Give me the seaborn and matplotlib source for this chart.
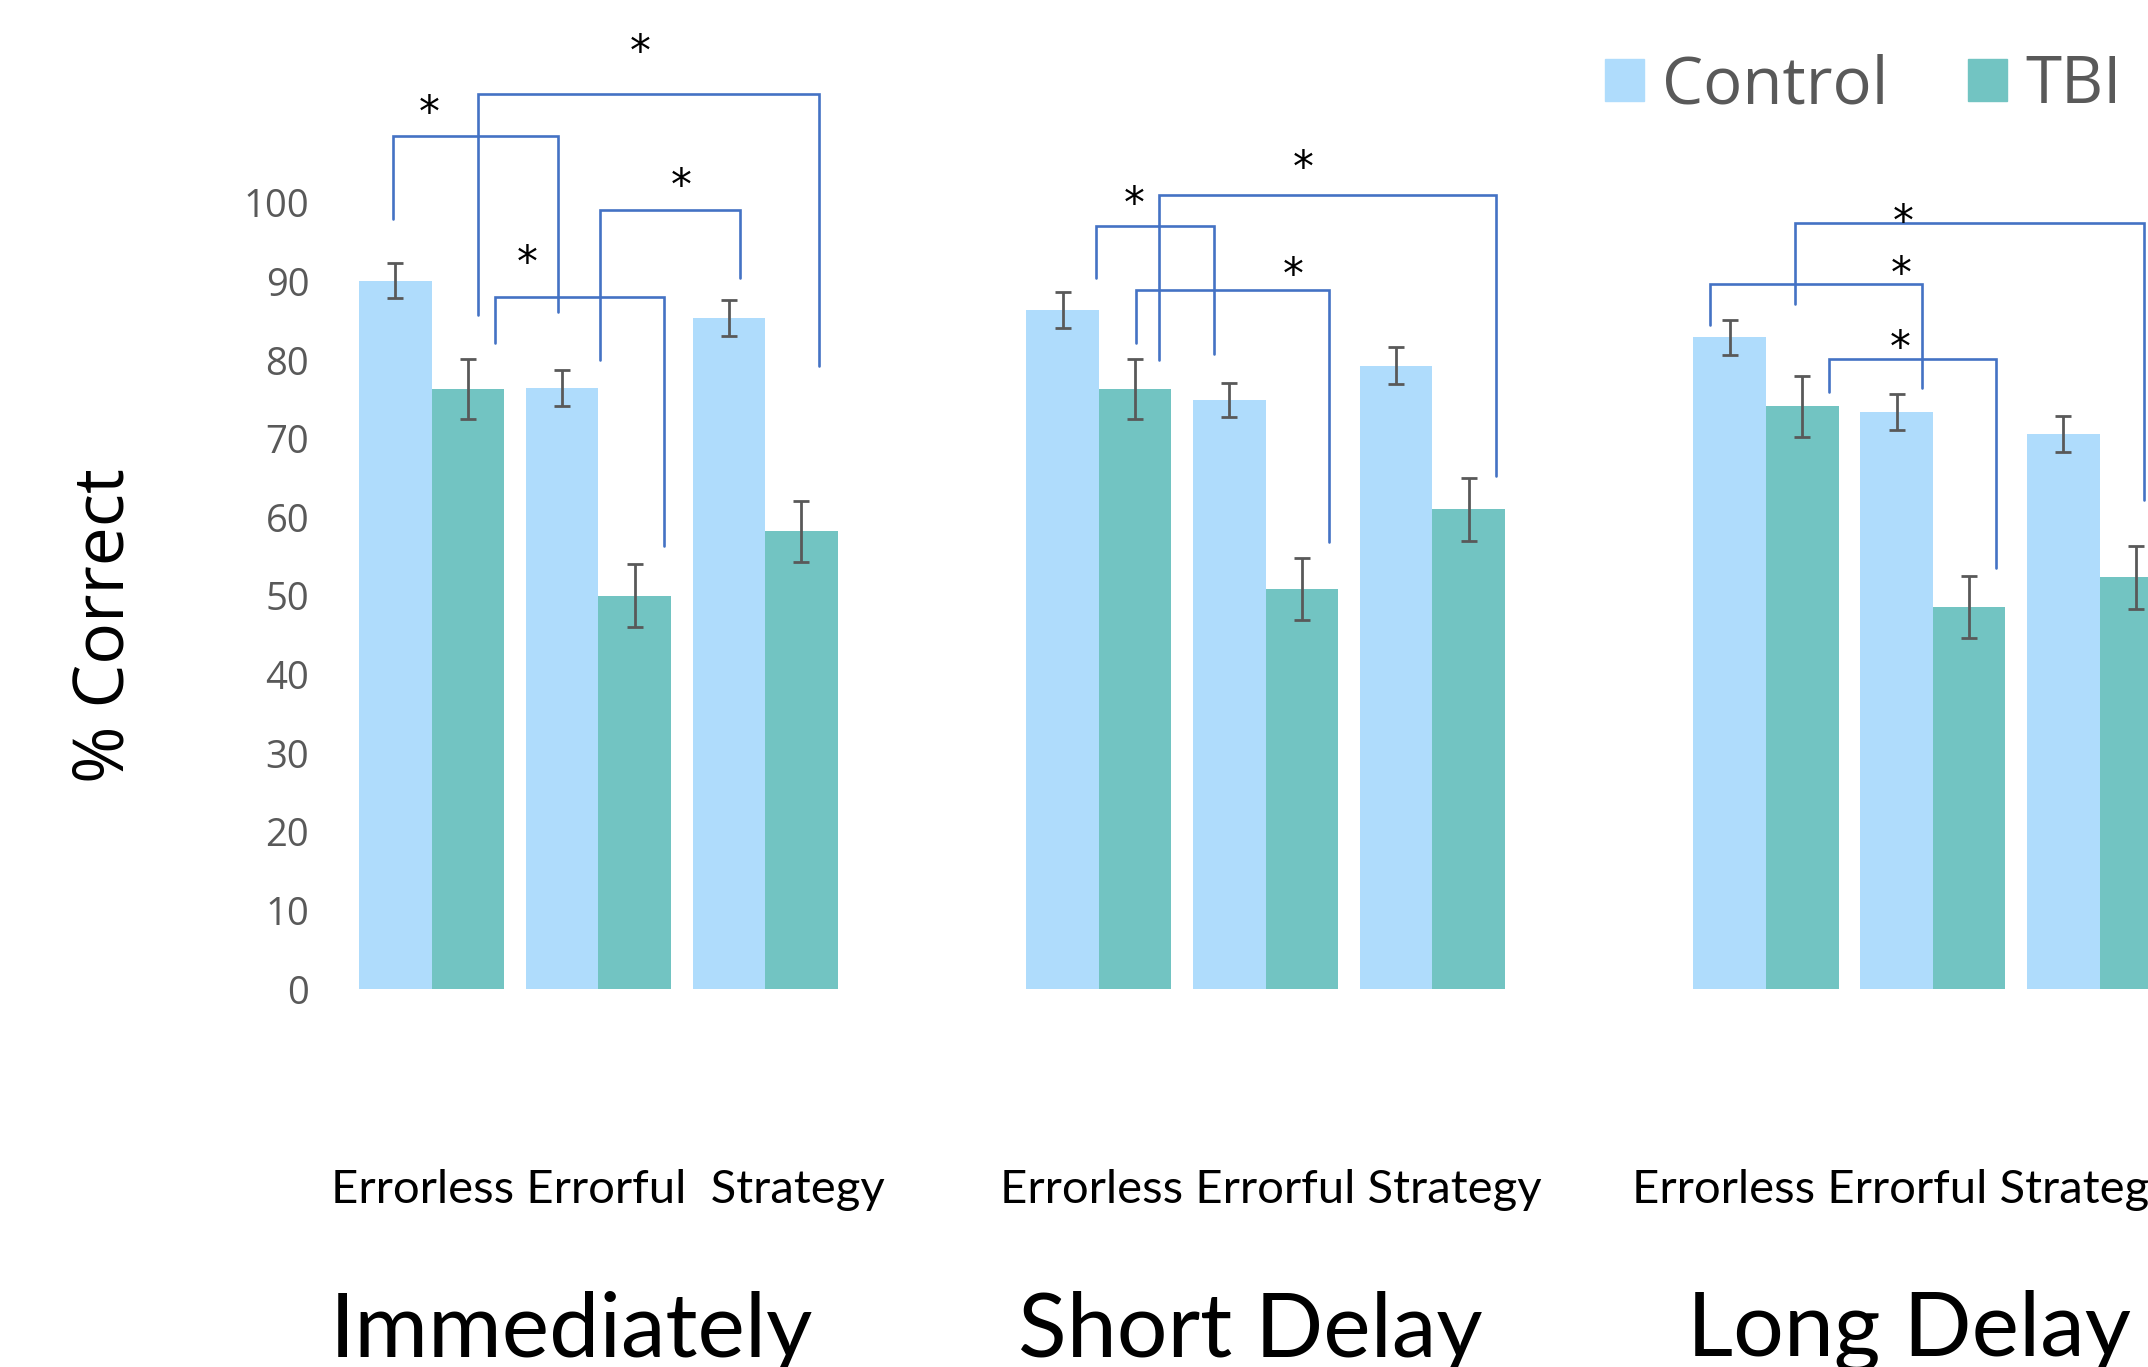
import numpy as np
import pandas as pd
import seaborn as sns
import matplotlib.pyplot as plt
import matplotlib.transforms as mtransforms
from matplotlib.patches import Patch

# Data
delays = ['Immediately', 'Short Delay', 'Long Delay']
conditions = ['Errorless', 'Errorful', 'Strategy']
groups = ['Control', 'TBI']

control_mean = [90.1, 76.5, 85.4, 86.4, 74.9, 79.3, 82.9, 73.4, 70.6]
control_err = [2.2, 2.3, 2.3, 2.3, 2.2, 2.3, 2.2, 2.25, 2.3]
tbi_mean = [76.3, 50.0, 58.2, 76.3, 50.9, 61.0, 74.1, 48.6, 52.4]
tbi_err = [3.8, 4.0, 3.9, 3.8, 3.9, 4.0, 3.9, 3.9, 4.0]

# labels under each block of bars
cond_labels = ['Errorless Errorful  Strategy', 'Errorless Errorful Strategy', 'Errorless Errorful Strategy']
cond_label_x = [1.06, 5.03, 8.82]
delay_label_x = [0.84, 4.91, 8.86]

# significance brackets: x left, x right, left leg end, right leg end, bar height, star x, star y
brackets = [
    (-0.230, 0.756, 97.9, 86.1, 108.5, -0.016, 112.4),
    (0.279, 2.324, 85.7, 79.3, 113.8, 1.248, 120.2),
    (0.378, 1.396, 82.2, 56.4, 88.0, 0.575, 93.4),
    (1.010, 1.848, 80.0, 90.4, 99.1, 1.495, 103.1),
    (3.984, 4.690, 90.4, 80.8, 97.0, 4.214, 100.9),
    (4.361, 6.382, 80.0, 65.3, 101.0, 5.224, 105.4),
    (4.222, 5.380, 82.2, 56.8, 88.9, 5.166, 91.8),
    (7.663, 8.936, 84.5, 76.5, 89.7, 8.813, 92.0),
    (8.172, 10.267, 87.1, 62.2, 97.4, 8.821, 98.6),
    (8.375, 9.380, 76.0, 53.5, 80.1, 8.805, 82.6),
]

colors = ['#AFDCFC', '#72C4C2']
grey = '#595959'
blue = '#4472C4'

sns.set_style('white')
plt.rcParams['font.family'] = ['Open Sans', 'DejaVu Sans']

# one slot per delay/condition, blocks of three separated by a gap
pos = [4 * g + c for g in range(len(delays)) for c in range(len(conditions))]
df = pd.DataFrame({
    'pos': pos * 2,
    'value': control_mean + tbi_mean,
    'group': ['Control'] * 9 + ['TBI'] * 9,
})

fig = plt.figure(figsize=(21.48, 13.67), dpi=100)
ax = fig.add_axes([328.8 / 2148, 0.2765, 1 - 328.8 / 2148, 1 - 0.2765])

sns.barplot(data=df, x='pos', y='value', hue='group', hue_order=groups,
            palette=colors, native_scale=True, width=0.87, gap=0,
            saturation=1, errorbar=None, legend=False, linewidth=0, ax=ax)

for cont, means, errs in zip(ax.containers, [control_mean, tbi_mean], [control_err, tbi_err]):
    xs = sorted(b.get_x() + b.get_width() / 2 for b in cont)
    ax.errorbar(xs, means, yerr=errs, fmt='none', ecolor=grey,
                elinewidth=2, capsize=6, capthick=2)

for xl, xr, yl, yr, top, sx, sy in brackets:
    ax.plot([xl, xl, xr, xr], [yl, top, top, yr], color=blue, lw=1.9,
            solid_joinstyle='miter')
    ax.annotate('*', (sx, sy), xytext=(0, -6.5), textcoords='offset points',
                ha='center', va='center', fontsize=30, color='black',
                family='DejaVu Sans')

ax.set_xlim(-0.616, 10.29)
ax.set_ylim(0, 125.8)
ax.set_yticks(range(0, 101, 10))
ax.set_xticks([])
ax.tick_params(axis='y', length=0, pad=14, labelsize=27.5, labelcolor=grey)
ax.set_xlabel('')
ax.set_ylabel('')
sns.despine(ax=ax, left=True, bottom=True)

fig.text(105 / 2148, 1 - 626 / 1367, '% Correct', rotation=90,
         ha='center', va='center', fontsize=50, color='black')

trans = mtransforms.blended_transform_factory(ax.transData, fig.transFigure)
for x, s in zip(cond_label_x, cond_labels):
    ax.text(x, 0.12, s, transform=trans, ha='center', va='baseline',
            fontsize=34, family='Lato', color='black')
for x, s in zip(delay_label_x, delays):
    ax.text(x, 0.008, s, transform=trans, ha='center', va='baseline',
            fontsize=64.5, family='Lato', color='black')

handles = [Patch(color=c, label=g) for c, g in zip(colors, groups)]
ax.legend(handles=handles, loc='center right', bbox_to_anchor=(2122 / 2148, 1 - 86 / 1367),
          bbox_transform=fig.transFigure, ncol=2, frameon=False,
          prop={'family': 'Open Sans', 'size': 47}, labelcolor=grey,
          handlelength=0.6, handleheight=0.6, handletextpad=0.28,
          columnspacing=1.22, borderpad=0, borderaxespad=0)

fig.savefig('out.png', dpi=100)
